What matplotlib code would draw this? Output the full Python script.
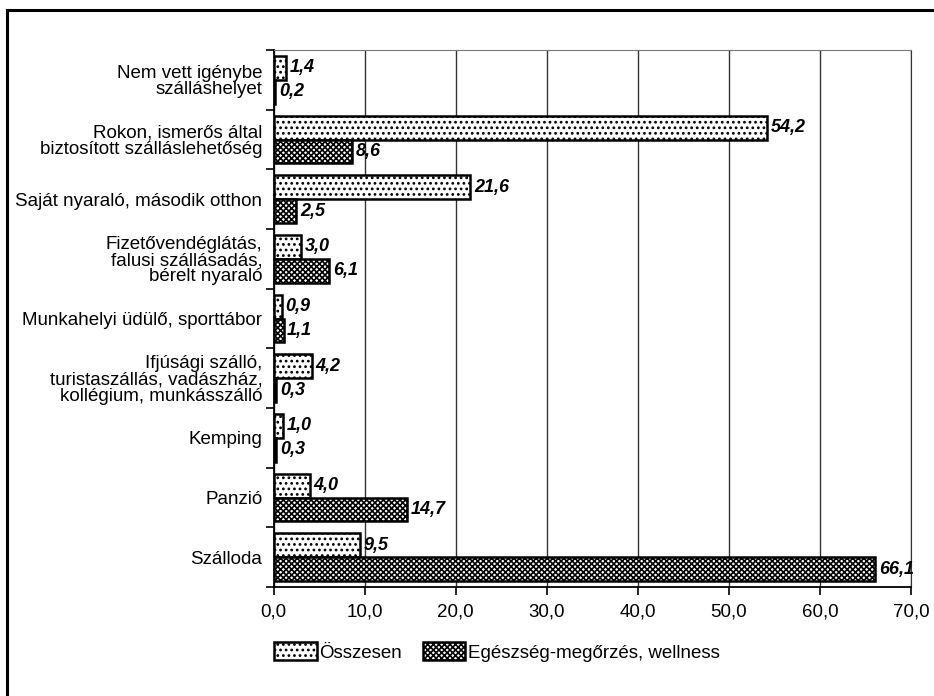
import numpy as np
import matplotlib.pyplot as plt
from matplotlib.lines import Line2D

plt.rcParams['font.family'] = ['Liberation Sans', 'DejaVu Sans']
plt.rcParams['hatch.linewidth'] = 1.2

categories = ["Nem vett igénybe\nszálláshelyet",
              "Rokon, ismerős által\nbiztosított szálláslehetőség",
              "Saját nyaraló, második otthon",
              "Fizetővendéglátás,\nfalusi szállásadás,\nbérelt nyaraló",
              "Munkahelyi üdülő, sporttábor",
              "Ifjúsági szálló,\nturistaszállás, vadászház,\nkollégium, munkásszálló",
              "Kemping",
              "Panzió",
              "Szálloda"]
osszesen = [1.4, 54.2, 21.6, 3.0, 0.9, 4.2, 1.0, 4.0, 9.5]
wellness = [0.2, 8.6, 2.5, 6.1, 1.1, 0.3, 0.3, 14.7, 66.1]
series_names = ["Összesen", "Egészség-megőrzés, wellness"]

fig = plt.figure(figsize=(9.34, 6.96), dpi=100)
ax = fig.add_axes([273.5 / 934, 1 - 587 / 696, (911 - 273.5) / 934, (587 - 50) / 696])

# outer frame (top and left only)
fig.add_artist(Line2D([7 / 934, 7 / 934], [0, 1 - 10 / 696], color='black', lw=2.2,
                      transform=fig.transFigure))
fig.add_artist(Line2D([7 / 934, 1], [1 - 10 / 696, 1 - 10 / 696], color='black', lw=2.2,
                      transform=fig.transFigure))

y = np.arange(len(categories))
h = 0.4
b1 = ax.barh(y - h / 2, osszesen, height=h, color='white', edgecolor='black',
             hatch='...', lw=1.8, label=series_names[0])
b2 = ax.barh(y + h / 2, wellness, height=h, color='white', edgecolor='black',
             hatch='xxxxxx', lw=1.8, label=series_names[1])

def fmt(v):
    return ('%.1f' % v).replace('.', ',')

for rects, vals in ((b1, osszesen), (b2, wellness)):
    for r, v in zip(rects, vals):
        ax.text(r.get_width() + 0.4, r.get_y() + r.get_height() / 2, fmt(v),
                va='center', ha='left', fontsize=13, style='italic', weight='bold')

ax.set_ylim(len(categories) - 0.5, -0.5)
ax.set_xlim(0, 70)
ax.set_xticks(np.arange(0, 71, 10))
ax.set_xticklabels([fmt(v) for v in np.arange(0, 71, 10)], fontsize=13.5)
ax.set_yticks(y)
ax.set_yticklabels(categories, fontsize=13.5, linespacing=0.95)
ax.set_yticks(np.arange(-0.5, len(categories), 1), minor=True)
ax.tick_params(axis='y', which='major', length=0, pad=8)
ax.tick_params(axis='y', which='minor', length=6, width=1.2)
ax.tick_params(axis='x', length=6, width=1.2, pad=6)
ax.grid(axis='x', color='#333333', lw=1.0)
ax.set_axisbelow(True)
ax.spines['top'].set_color('#777777')
ax.spines['right'].set_color('#333333')
ax.spines['left'].set_linewidth(1.3)
ax.spines['bottom'].set_linewidth(1.3)

ax.legend(handles=[b1, b2], loc='center left', bbox_to_anchor=(-0.025, -0.121),
          ncol=2, frameon=False, fontsize=13.5, handlelength=2.25, handleheight=1.1,
          handletextpad=0.15, columnspacing=1.1)

fig.savefig('out.png', dpi=100)
